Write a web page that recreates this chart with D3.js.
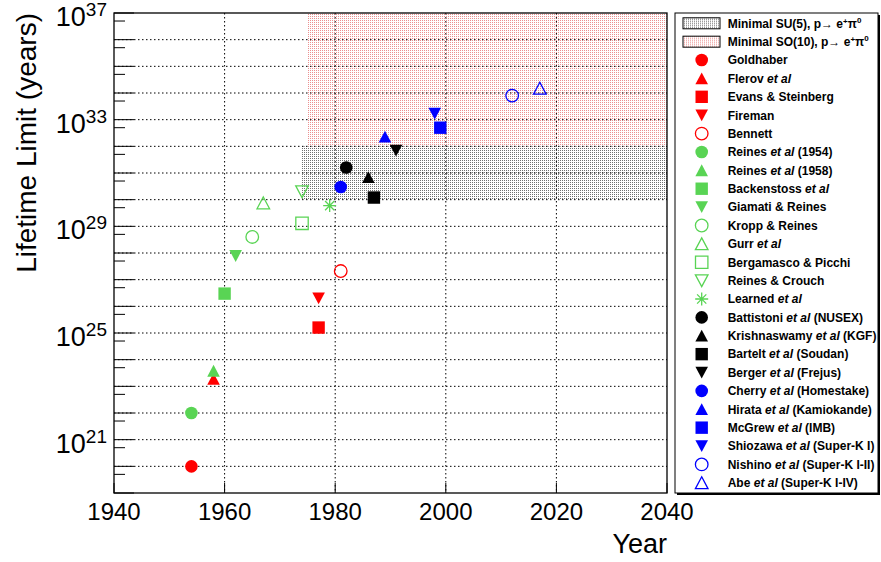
<!DOCTYPE html>
<html>
<head>
<meta charset="utf-8">
<script src="https://cdn.jsdelivr.net/npm/d3@7"></script>
<style>
  body { margin: 0; background: #fff; }
  text { font-family: "Liberation Sans", Arial, Helvetica, sans-serif; }
</style>
</head>
<body>
<svg id="chart" width="881" height="562"></svg>
<script>
// experiments, in legend order
const experiments = ["Goldhaber", "Flerov et al", "Evans & Steinberg", "Fireman", "Bennett",
  "Reines et al (1954)", "Reines et al (1958)", "Backenstoss et al", "Giamati & Reines",
  "Kropp & Reines", "Gurr et al", "Bergamasco & Picchi", "Reines & Crouch", "Learned et al",
  "Battistoni et al (NUSEX)", "Krishnaswamy et al (KGF)", "Bartelt et al (Soudan)",
  "Berger et al (Frejus)", "Cherry et al (Homestake)", "Hirata et al (Kamiokande)",
  "McGrew et al (IMB)", "Shiozawa et al (Super-K I)", "Nishino et al (Super-K I-II)",
  "Abe et al (Super-K I-IV)"];
const years = [1954, 1958, 1977, 1977, 1981, 1954, 1958, 1960, 1962, 1965, 1967, 1974, 1974, 1979,
  1982, 1986, 1987, 1991, 1981, 1989, 1999, 1998, 2012, 2017];
const limits = [1e20, 1.9e23, 1.6e25, 2e26, 2.1e27, 1e22, 3.8e23, 3e26, 7.8e27, 4e28, 7.5e29, 1.3e29,
  2e30, 6e29, 1.6e31, 7e30, 1.2e30, 7e31, 3e30, 2.3e32, 5e32, 1.7e33, 8e33, 1.5e34];
const markerShapes = ["circle", "triUp", "square", "triDown", "circle",
  "circle", "triUp", "square", "triDown", "circle", "triUp", "square", "triDown", "star",
  "circle", "triUp", "square", "triDown",
  "circle", "triUp", "square", "triDown", "circle", "triUp"];
const markerFilled = [1, 1, 1, 1, 0, 1, 1, 1, 1, 0, 0, 0, 0, 1, 1, 1, 1, 1, 1, 1, 1, 1, 0, 0];
const markerColors = ["#ff0000", "#ff0000", "#ff0000", "#ff0000", "#ff0000",
  "#59d454", "#59d454", "#59d454", "#59d454", "#59d454", "#59d454", "#59d454", "#59d454", "#59d454",
  "#000000", "#000000", "#000000", "#000000",
  "#0000ff", "#0000ff", "#0000ff", "#0000ff", "#0000ff", "#0000ff"];

// theory bands
const bandNames = ["Minimal SU(5)", "Minimal SO(10)"];
const bandStart = [1974, 1975];
const bandEnd = [2040, 2040];
const bandLow = [1e30, 1e32];
const bandHigh = [1e32, 1e37];

const yearTicks = [1940, 1960, 1980, 2000, 2020, 2040];
const labelExponents = [21, 25, 29, 33, 37];

const svg = d3.select("#chart");
const x = d3.scaleLinear().domain([1940, 2040]).range([114, 667]);
const y = d3.scaleLog().domain([1e19, 1e37]).range([493, 13]);

// dotted patterns for the bands
let defs = svg.append("defs");
let addPattern = (id, color) => {
  let p = defs.append("pattern").attr("id", id).attr("patternUnits", "userSpaceOnUse")
    .attr("width", 2).attr("height", 2);
  p.append("rect").attr("width", 2).attr("height", 2).attr("fill", "#fff");
  p.append("rect").attr("x", 0).attr("y", 0).attr("width", 1).attr("height", 1)
    .attr("fill", color).attr("shape-rendering", "crispEdges");
};
addPattern("patGray", "#707070");
addPattern("patRed", "#ec9090");
const bandFills = ["url(#patGray)", "url(#patRed)"];

svg.selectAll("rect.band").data(bandNames).enter().append("rect")
  .attr("class", "band")
  .attr("x", (d, i) => x(bandStart[i]))
  .attr("y", (d, i) => y(bandHigh[i]))
  .attr("width", (d, i) => x(bandEnd[i]) - x(bandStart[i]))
  .attr("height", (d, i) => y(bandLow[i]) - y(bandHigh[i]))
  .attr("fill", (d, i) => bandFills[i]);

// grid
const decades = d3.range(20, 37);
svg.selectAll("line.hgrid").data(decades).enter().append("line")
  .attr("x1", 114).attr("x2", 667)
  .attr("y1", d => y(Math.pow(10, d))).attr("y2", d => y(Math.pow(10, d)))
  .attr("stroke", "#000").attr("stroke-width", 1).attr("stroke-dasharray", "1.5,2.5");
svg.selectAll("line.vgrid").data(yearTicks.slice(1, -1)).enter().append("line")
  .attr("x1", d => x(d)).attr("x2", d => x(d))
  .attr("y1", 13).attr("y2", 493)
  .attr("stroke", "#000").attr("stroke-width", 1).attr("stroke-dasharray", "1.5,2.5");

// axis ticks
svg.selectAll("line.ymaj").data(d3.range(19, 38)).enter().append("line")
  .attr("x1", 114).attr("x2", 134)
  .attr("y1", d => y(Math.pow(10, d))).attr("y2", d => y(Math.pow(10, d)))
  .attr("stroke", "#000");
svg.selectAll("line.ymin").data(d3.range(19, 37)).enter().append("line")
  .attr("x1", 114).attr("x2", 125)
  .attr("y1", d => y(5 * Math.pow(10, d))).attr("y2", d => y(5 * Math.pow(10, d)))
  .attr("stroke", "#000");
svg.selectAll("line.xmaj").data(yearTicks).enter().append("line")
  .attr("x1", d => x(d)).attr("x2", d => x(d))
  .attr("y1", 493).attr("y2", 483)
  .attr("stroke", "#000");

svg.append("rect").attr("x", 114).attr("y", 13).attr("width", 553).attr("height", 480)
  .attr("fill", "none").attr("stroke", "#000").attr("stroke-width", 1.3);

// tick labels
svg.selectAll("text.xl").data(yearTicks).enter().append("text")
  .attr("x", d => x(d)).attr("y", 520)
  .attr("text-anchor", "middle").attr("font-size", 24).text(d => d);
let yl = svg.selectAll("text.yl").data(labelExponents).enter().append("text")
  .attr("x", 107).attr("y", d => y(Math.pow(10, d)) + 13)
  .attr("text-anchor", "end").attr("font-size", 27);
yl.append("tspan").text("10");
yl.append("tspan").attr("font-size", 19).attr("dy", -10).text(d => d);

// axis titles
svg.append("text").attr("x", 667).attr("y", 553).attr("text-anchor", "end")
  .attr("font-size", 27).text("Year");
svg.append("text").attr("transform", "translate(36,13) rotate(-90)")
  .attr("text-anchor", "end").attr("font-size", 28).text("Lifetime Limit (years)");

// markers
let markerPath = (shape) => {
  let p = d3.path();
  if (shape === "circle") {
    p.arc(0, 0, 6.3, 0, 2 * Math.PI); p.closePath();
  } else if (shape === "square") {
    p.rect(-6.2, -6.2, 12.4, 12.4);
  } else if (shape === "triUp") {
    p.moveTo(0, -6); p.lineTo(6.3, 5.8); p.lineTo(-6.3, 5.8); p.closePath();
  } else if (shape === "triDown") {
    p.moveTo(0, 6); p.lineTo(6.3, -5.8); p.lineTo(-6.3, -5.8); p.closePath();
  } else {
    p.moveTo(0, -6.5); p.lineTo(0, 6.5);
    p.moveTo(-6.5, 0); p.lineTo(6.5, 0);
    p.moveTo(-4.6, -4.6); p.lineTo(4.6, 4.6);
    p.moveTo(-4.6, 4.6); p.lineTo(4.6, -4.6);
  }
  return p.toString();
};
let styleMarker = (sel) => sel
  .attr("d", (d, i) => markerPath(markerShapes[i]))
  .attr("fill", (d, i) => markerFilled[i] && markerShapes[i] !== "star" ? markerColors[i] : "none")
  .attr("stroke", (d, i) => markerFilled[i] && markerShapes[i] !== "star" ? "none" : markerColors[i])
  .attr("stroke-width", 1.3);

svg.append("g").selectAll("path").data(experiments).enter().append("path")
  .attr("transform", (d, i) => `translate(${x(years[i])},${y(limits[i])})`)
  .call(styleMarker);

// legend
const lx = 675, ly = 13, lw = 203, lh = 480;
svg.append("rect").attr("x", lx + 2).attr("y", ly + 2).attr("width", lw).attr("height", lh).attr("fill", "#000");
svg.append("rect").attr("x", lx).attr("y", ly).attr("width", lw).attr("height", lh)
  .attr("fill", "#fff").attr("stroke", "#000").attr("stroke-width", 1);
const rowY = i => 23.3 + i * 18.38;

let bandRows = svg.append("g").selectAll("g").data(bandNames).enter().append("g")
  .attr("transform", (d, i) => `translate(0,${rowY(i)})`);
bandRows.append("rect").attr("x", 683).attr("y", -5.5).attr("width", 37).attr("height", 11)
  .attr("fill", (d, i) => bandFills[i]).attr("stroke", "#000").attr("stroke-width", 1);
let bt = bandRows.append("text").attr("x", 727.7).attr("dy", "0.36em")
  .attr("font-size", 12).attr("font-weight", "bold");
bt.append("tspan").text(d => d + ", p\u2192 e");
bt.append("tspan").attr("font-size", 8).attr("dy", -4).text("+");
bt.append("tspan").attr("dy", 4).text("\u03c0");
bt.append("tspan").attr("font-size", 8).attr("dy", -5).text("0");

let rows = svg.append("g").selectAll("g").data(experiments).enter().append("g")
  .attr("transform", (d, i) => `translate(0,${rowY(i + 2)})`);
rows.append("path").attr("transform", "translate(701.7,0)").call(styleMarker);
let lt = rows.append("text").attr("x", 727.7).attr("dy", "0.36em")
  .attr("font-size", 12).attr("font-weight", "bold");
lt.each(function (d) {
  let t = d3.select(this);
  let parts = d.split("et al");
  t.append("tspan").text(parts[0]);
  if (parts.length > 1) {
    t.append("tspan").attr("font-style", "italic").text("et al");
    t.append("tspan").text(parts[1]);
  }
});
</script>
</body>
</html>
